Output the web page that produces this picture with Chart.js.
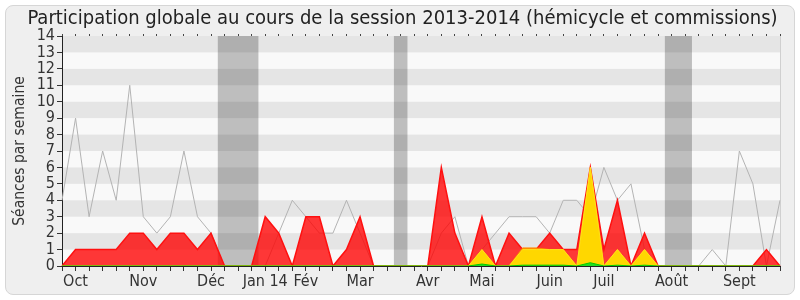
<!DOCTYPE html>
<html>
<head>
<meta charset="utf-8">
<script src="https://cdn.jsdelivr.net/npm/chart.js@4"></script>
<style>
  html, body { margin: 0; padding: 0; background: #ffffff; }
  #wrap { position: relative; width: 800px; height: 300px; }
  #frame { position: absolute; left: 5px; top: 5px; width: 788px; height: 288px;
           border: 1px solid #d6d6d6; border-radius: 8px; background: #efefef; }
  #c { position: absolute; left: 0; top: 0; }
</style>
</head>
<body>
<div id="wrap">
  <div id="frame"></div>
  <canvas id="c" width="800" height="300"></canvas>
</div>
<script>
// Week labels (54 weeks, Oct 2013 -> Sept 2014); month names where shown
const monthLabels = { 1: "Oct", 6: "Nov", 11: "Déc", 15: "Jan 14", 18: "Fév", 22: "Mar",
                      27: "Avr", 31: "Mai", 36: "Juin", 40: "Juil", 45: "Août", 50: "Sept" };
const weeks = Array.from({ length: 54 }, (_, i) => monthLabels[i] || "");

// Grey line: reference weekly sessions
const greyLine = [4, 9, 3, 7, 4, 11, 3, 2, 3, 7, 3, 2, 0, 0, 0, 0, 2, 4, 3, 2,
                  2, 4, 2, 0, 0, 0, 0, 0, 2, 3, 0, 1, 2, 3, 3, 3, 2, 4, 4, 3,
                  6, 4, 5, 1, 0, 0, 0, 0, 1, 0, 7, 5, 0, 4];
// Red area: total presences (commissions + hémicycle)
const redArea = [0, 1, 1, 1, 1, 2, 2, 1, 2, 2, 1, 2, 0, 0, 0, 3, 2, 0, 3, 3,
                 0, 1, 3, 0, 0, 0, 0, 0, 6, 2, 0, 3, 0, 2, 1, 1, 2, 1, 1, 6,
                 1, 4, 0, 2, 0, 0, 0, 0, 0, 0, 0, 0, 1, 0];
// Orange area (thin layer above yellow)
const orangeArea = [0, 0, 0, 0, 0, 0, 0, 0, 0, 0, 0, 0, 0, 0, 0, 0, 0, 0, 0, 0,
                    0, 0, 0, 0, 0, 0, 0, 0, 0, 0, 0, 1, 0, 0, 1.1, 1.1, 1, 1, 0, 6,
                    0, 1, 0, 1, 0, 0, 0, 0, 0, 0, 0, 0, 0, 0];
// Yellow area: hémicycle
const yellowArea = [0, 0, 0, 0, 0, 0, 0, 0, 0, 0, 0, 0, 0, 0, 0, 0, 0, 0, 0, 0,
                    0, 0, 0, 0, 0, 0, 0, 0, 0, 0, 0, 1, 0, 0, 1, 1, 1, 1, 0, 6,
                    0, 1, 0, 1, 0, 0, 0, 0, 0, 0, 0, 0, 0, 0];
// Green area: interventions
const greenArea = [0, 0, 0, 0, 0, 0, 0, 0, 0, 0, 0, 0, 0, 0, 0, 0, 0, 0, 0, 0,
                   0, 0, 0, 0, 0, 0, 0, 0, 0, 0, 0, 0.12, 0, 0, 0.05, 0.05, 0.05, 0.05, 0, 0.2,
                   0, 0.05, 0, 0.05, 0, 0, 0, 0, 0, 0, 0, 0, 0, 0];
// Parliamentary holidays (week index ranges)
const holidays = [[11.5, 14.5], [24.5, 25.5], [44.5, 46.5]];
const yTicks = [0, 1, 2, 3, 4, 5, 6, 7, 8, 9, 10, 11, 12, 13, 14];

const FONT = "'DejaVu Sans Condensed', 'DejaVu Sans', sans-serif";

const bgPlugin = {
  id: 'bg',
  beforeDraw(chart) {
    const { ctx, chartArea: a, scales } = chart;
    const x = scales.x, y = scales.y;
    ctx.save();
    ctx.fillStyle = '#f9f9f9';
    ctx.fillRect(a.left, a.top, a.right - a.left, a.bottom - a.top);
    ctx.fillStyle = '#bebebe';
    holidays.forEach(([s, e]) => {
      const x0 = x.getPixelForValue(s), x1 = x.getPixelForValue(e);
      ctx.fillRect(x0, a.top, x1 - x0, a.bottom - a.top);
    });
    ctx.fillStyle = 'rgba(0,0,0,0.08)';
    for (let v = 1; v < 14; v += 2) {
      const y0 = y.getPixelForValue(v + 1), y1 = y.getPixelForValue(v);
      ctx.fillRect(a.left, y0, a.right - a.left, y1 - y0);
    }
    ctx.strokeStyle = '#d0d0d0';
    ctx.lineWidth = 1;
    ctx.beginPath();
    ctx.moveTo(a.right + 0.5, a.top);
    ctx.lineTo(a.right + 0.5, a.bottom);
    ctx.stroke();
    ctx.restore();
  }
};

const area = (label, data, fillColor, lineColor, order, bw) => ({
  label, data, order,
  fill: 'origin',
  backgroundColor: fillColor,
  borderColor: lineColor,
  borderWidth: bw,
  pointRadius: 0,
  tension: 0
});

new Chart(document.getElementById('c'), {
  type: 'line',
  data: {
    labels: weeks,
    datasets: [
      area('Interventions', greenArea, '#22dd22', '#00cc00', 0, 1),
      area('Hémicycle', yellowArea, '#ffd700', '#ffe21a', 1, 1),
      area('Autre', orangeArea, '#ff8c00', '#ff8c00', 2, 1),
      area('Présences', redArea, 'rgba(255,0,0,0.78)', '#ff1010', 3, 1.5),
      { label: 'Médiane', data: greyLine, order: 4, fill: false, borderColor: '#b3b3b3',
        borderWidth: 1, pointRadius: 0, tension: 0 }
    ]
  },
  options: {
    responsive: false,
    animation: false,
    devicePixelRatio: 1,
    layout: { padding: { left: 11, right: 6, top: 0, bottom: 0 } },
    plugins: {
      legend: { display: false },
      tooltip: { enabled: false },
      title: {
        display: true,
        text: 'Participation globale au cours de la session 2013-2014 (hémicycle et commissions)',
        color: '#222',
        font: { family: FONT, size: 20, weight: 'normal', lineHeight: 1.2 },
        padding: { top: 7, bottom: 0 },
        align: 'center'
      }
    },
    scales: {
      x: {
        type: 'category',
        offset: false,
        grid: { drawOnChartArea: false, drawTicks: true, tickLength: 5, color: '#333' },
        border: { display: true, color: '#222', width: 1 },
        ticks: { autoSkip: false, maxRotation: 0, minRotation: 0, padding: 1,
                 color: '#333', font: { family: FONT, size: 16 } },
        afterFit(s) { s.height = 34; }
      },
      x2: {
        type: 'category',
        position: 'top',
        offset: false,
        grid: { drawOnChartArea: false, drawTicks: true, tickLength: 2, color: '#444' },
        border: { display: false },
        ticks: { display: false },
        afterFit(s) { s.height = 5; }
      },
      y: {
        min: 0, max: 14,
        afterBuildTicks(s) { s.ticks = yTicks.map(v => ({ value: v })); },
        grid: { drawOnChartArea: false, drawTicks: true, tickLength: 5, color: '#333' },
        border: { display: true, color: '#222', width: 1 },
        ticks: { autoSkip: false, padding: 2, color: '#333', font: { family: FONT, size: 16 } },
        title: { display: true, text: 'Séances par semaine', color: '#333',
                 font: { family: FONT, size: 15.5 }, padding: { top: 0, bottom: 2 } },
        afterFit(s) { s.width = 51; }
      },
      yR: {
        position: 'right',
        min: 0, max: 14,
        grid: { display: false },
        border: { display: false },
        ticks: { display: false },
        afterFit(s) { s.width = 14; }
      }
    }
  },
  plugins: [bgPlugin]
});
</script>
</body>
</html>
